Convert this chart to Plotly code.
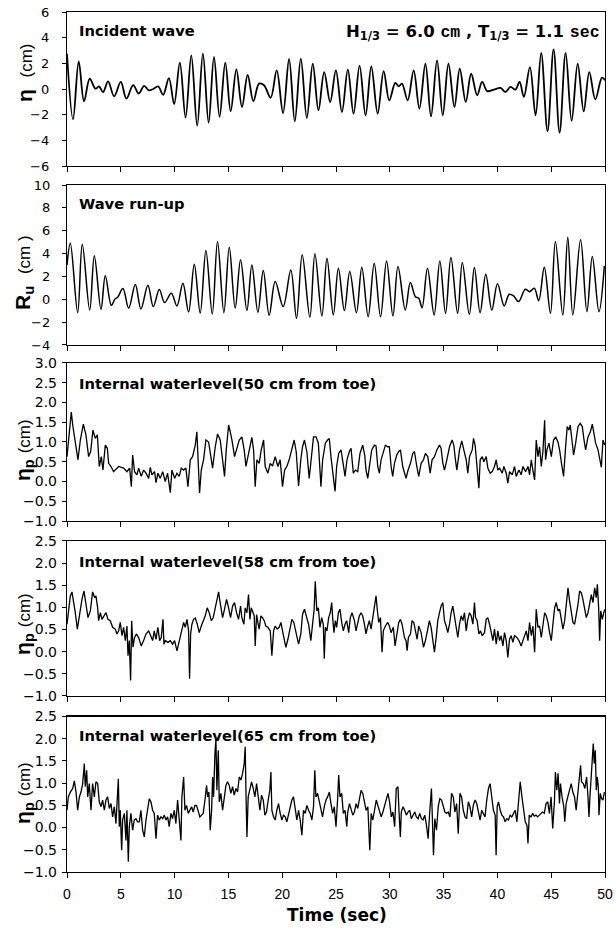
import plotly.graph_objects as go

SANS = "Liberation Sans, Arial, sans-serif"
WIDE = "DejaVu Sans, Verdana, sans-serif"

# ---------------- Incident wave (cm) ----------------
time_incident = [0.00,0.56,1.09,1.58,2.11,2.64,2.98,3.35,3.82,4.38,
    5.00,5.52,6.15,6.67,7.17,7.60,8.01,8.47,8.94,9.47,
    9.96,10.49,11.02,11.55,12.10,12.63,13.16,13.66,14.18,14.71,
    15.21,15.74,16.26,16.79,17.32,17.85,18.31,18.93,19.49,20.08,
    20.64,21.17,21.73,22.29,22.84,23.37,23.90,24.46,24.99,25.55,
    26.10,26.63,27.19,27.75,28.28,28.87,29.43,29.95,30.51,30.82,
    31.13,31.66,32.22,32.75,33.31,33.83,34.39,34.92,35.45,36.01,
    36.50,37.06,37.56,38.12,38.58,39.05,39.67,40.29,40.75,41.22,
    41.68,42.06,42.46,43.02,43.55,44.07,44.66,45.22,45.78,46.34,
    46.90,47.46,48.02,48.54,49.10,49.72,50.0]
eta_incident = [2.75,-2.36,2.16,-0.96,0.80,0.03,0.20,-0.25,0.60,-0.57,
    0.55,-0.75,0.30,-0.35,0.25,-0.10,0.00,0.20,-0.45,0.85,
    -1.17,2.05,-2.23,2.62,-2.86,2.75,-2.62,2.50,-2.16,2.05,
    -1.74,1.53,-1.40,1.09,-0.94,0.42,0.29,-0.68,1.45,-1.87,
    2.34,-2.52,2.36,-2.26,1.97,-1.66,1.32,-1.01,1.45,-1.79,
    1.51,-1.92,1.82,-2.05,1.77,-1.92,1.40,-0.88,0.47,0.21,
    0.42,-0.88,1.45,-1.53,1.97,-2.13,2.23,-2.05,1.97,-1.40,
    1.58,-1.01,1.19,-0.49,0.55,-0.16,-0.05,0.08,-0.23,0.16,
    -0.05,0.55,-0.62,1.71,-2.05,2.81,-3.30,3.09,-3.40,2.81,
    -2.49,1.97,-1.74,1.32,-0.81,0.88,0.68]

# ---------------- Wave run-up (cm) ----------------
time_runup = [0.00,0.31,0.99,1.42,2.11,2.54,3.16,3.56,4.12,4.46,
    4.71,5.20,5.73,6.35,6.87,7.52,8.02,8.58,9.07,9.69,
    10.22,10.77,11.30,11.83,12.38,12.91,13.50,13.99,14.58,15.08,
    15.63,16.13,16.72,17.18,17.74,18.24,18.79,19.35,20.09,20.80,
    21.33,21.86,22.57,23.04,23.69,24.16,24.75,25.22,25.78,26.28,
    26.90,27.40,27.99,28.55,29.14,29.70,30.29,30.76,31.44,31.91,
    32.38,32.69,33.00,33.50,34.12,34.65,35.18,35.68,36.30,36.74,
    37.39,37.86,38.39,38.92,39.48,40.01,40.63,41.10,41.50,41.97,
    42.59,42.99,43.43,43.84,44.36,44.93,45.39,46.08,46.54,47.01,
    47.73,48.32,48.82,49.44,49.94]
runup = [3.0,4.91,-1.17,4.82,-0.94,3.80,-0.88,2.05,-0.53,0.03,
    0.18,0.94,-0.79,1.29,-0.85,1.23,-0.64,0.85,-0.29,0.53,
    -0.58,1.40,-1.11,3.07,-1.20,4.27,-1.29,5.06,-1.17,4.56,
    -0.76,3.45,-0.99,3.01,-1.14,2.51,-1.40,1.55,-0.64,2.57,
    -1.67,3.89,-1.58,3.98,-1.46,3.60,-1.37,2.72,-0.99,2.43,
    -1.17,2.81,-1.52,3.16,-1.52,3.36,-1.46,2.87,-0.94,1.46,
    0.23,0.09,-0.73,2.72,-1.37,3.36,-1.23,3.65,-1.23,3.22,
    -1.32,2.78,-1.17,2.19,-0.94,1.35,-0.58,0.44,0.29,-0.20,
    0.88,0.67,0.96,-0.12,2.81,-1.23,5.06,-1.37,5.44,-1.37,
    5.20,-1.08,3.74,-1.08,2.92]

# ---------------- Internal water level, 50 cm from toe ----------------
time_50 = [0.00,0.15,0.40,0.53,0.65,0.84,1.02,1.24,1.52,1.76,
    2.01,2.20,2.41,2.63,2.82,3.00,3.19,3.34,3.56,3.75,
    3.87,4.09,4.33,4.80,5.26,5.57,5.82,5.98,6.10,6.28,
    6.50,6.66,6.90,7.12,7.34,7.59,7.74,7.89,8.14,8.27,
    8.45,8.67,8.89,9.13,9.35,9.60,9.75,10.00,10.22,10.43,
    10.62,10.84,11.05,11.24,11.46,11.67,11.92,12.07,12.23,12.32,
    12.48,12.69,12.91,13.16,13.37,13.53,13.78,13.99,14.24,14.46,
    14.64,14.80,15.02,15.17,15.33,15.57,15.79,16.01,16.25,16.47,
    16.63,16.81,17.03,17.18,17.34,17.49,17.65,17.86,18.05,18.27,
    18.42,18.67,18.89,19.10,19.35,19.60,19.81,20.03,20.22,20.43,
    20.65,20.90,21.11,21.30,21.52,21.73,21.89,22.07,22.29,22.51,
    22.69,22.91,
    23.14,23.36,23.51,23.60,23.76,24.01,24.22,24.38,24.53,24.69,
    24.91,25.06,25.25,25.47,25.62,25.84,26.02,26.24,26.40,26.61,
    26.80,27.02,27.23,27.48,27.67,27.79,27.95,28.10,28.32,28.57,
    28.72,28.88,29.03,29.19,29.40,29.59,29.81,29.96,30.12,30.27,
    30.43,30.65,30.83,30.99,31.20,31.39,31.51,31.70,31.92,32.13,
    32.29,32.51,32.69,32.91,33.13,33.31,33.53,33.75,33.93,34.15,
    34.37,34.62,34.77,34.93,35.08,35.30,35.55,35.79,35.95,36.10,
    36.23,36.48,36.69,36.88,37.10,37.25,37.41,37.66,37.78,37.93,
    38.09,38.28,38.40,38.59,38.74,38.96,39.11,39.33,39.52,39.73,
    39.89,40.04,40.20,40.45,40.60,40.82,40.97,41.13,41.38,41.59,
    41.75,42.00,42.21,42.37,42.62,42.84,42.99,43.15,43.30,43.46,
    43.61,43.77,43.92,44.08,44.23,44.39,44.48,44.60,44.79,45.01,
    45.22,45.41,45.63,45.78,46.00,46.15,46.34,46.49,46.65,46.77,
    46.96,47.08,47.27,47.49,47.70,47.89,48.05,48.20,48.42,48.64,
    48.82,48.95,49.13,49.35,49.50,49.66,49.81,49.97]
level_50 = [0.63,1.00,1.76,1.43,1.22,0.88,0.55,1.05,1.45,1.18,
    0.63,0.76,1.30,1.09,1.18,0.38,0.63,0.29,0.92,0.84,
    0.46,0.38,0.25,0.38,0.34,0.25,0.34,-0.13,0.67,0.25,
    0.17,0.34,0.13,0.29,0.21,0.08,0.36,0.17,0.25,-0.03,
    0.21,0.08,0.25,0.00,0.21,-0.28,0.29,0.08,0.21,0.13,
    0.34,0.29,0.34,-0.13,0.55,0.63,0.92,1.26,-0.04,-0.29,
    0.29,0.55,1.05,1.00,0.63,0.34,0.88,1.20,1.05,0.50,
    0.13,0.80,1.43,1.26,1.05,0.63,0.84,1.05,1.13,0.80,
    0.38,0.63,0.97,1.12,0.80,-0.13,0.55,0.46,0.80,1.05,
    0.38,0.21,0.46,0.39,0.63,0.38,0.55,-0.13,0.29,0.38,
    0.55,0.80,1.05,0.76,-0.11,0.55,0.88,1.05,0.76,0.08,
    0.55,1.13,
    1.13,0.97,0.29,-0.13,0.55,0.97,1.05,1.09,0.63,0.29,
    -0.25,0.38,0.71,0.80,0.55,0.13,0.55,0.76,0.84,0.21,
    0.29,0.25,0.71,0.92,0.67,0.29,0.08,0.38,0.80,0.92,
    0.90,0.38,0.21,0.55,0.76,0.92,0.88,0.88,0.38,0.13,
    0.46,0.67,0.76,0.80,0.38,0.21,0.08,0.29,0.46,0.71,
    0.76,0.38,0.13,0.46,0.55,0.71,0.63,0.21,0.55,0.63,
    0.80,0.92,0.84,0.46,0.29,0.55,0.88,1.05,0.92,0.55,
    0.29,0.80,1.03,0.80,0.55,0.21,0.63,0.80,1.09,0.92,
    0.38,-0.17,0.55,0.63,0.50,0.63,0.34,0.21,0.25,0.38,
    0.55,0.29,0.34,0.21,0.38,0.21,-0.04,0.25,0.17,0.38,
    0.13,0.29,0.17,0.38,0.25,0.38,0.17,0.55,0.29,0.04,
    1.05,0.63,0.88,0.38,0.76,1.55,0.55,0.80,0.97,0.63,
    1.05,1.13,1.00,0.80,0.38,0.13,0.88,1.39,1.30,1.43,
    0.97,0.67,0.97,1.39,1.47,1.39,1.05,0.80,1.13,1.26,
    1.45,1.26,0.97,0.80,0.59,0.36,1.05,0.92]

# ---------------- Internal water level, 58 cm from toe ----------------
time_58 = [0.00,0.15,0.31,0.46,0.62,0.77,0.96,1.15,1.39,1.58,
    1.76,1.95,2.17,2.38,2.57,2.69,2.85,2.94,3.10,3.25,
    3.44,3.62,3.81,4.02,4.24,4.49,4.64,4.80,4.95,5.11,
    5.26,5.42,5.57,5.67,5.79,5.91,6.01,6.13,6.28,6.44,
    6.66,6.90,7.12,7.34,7.59,7.80,7.96,8.11,8.27,8.45,
    8.61,8.76,8.92,9.01,9.13,9.38,9.60,9.81,10.00,10.22,
    10.37,10.53,10.68,10.84,10.99,11.15,11.30,11.39,11.49,11.61,
    11.76,11.92,12.11,12.29,12.48,12.66,12.85,13.03,13.22,13.41,
    13.59,13.78,13.96,14.09,14.21,14.33,14.46,14.64,14.83,15.02,
    15.20,15.39,15.57,15.76,15.94,16.13,16.25,16.44,16.56,16.72,
    16.87,17.00,17.12,17.24,17.40,17.49,17.62,17.74,17.86,18.02,
    18.17,18.33,18.48,18.67,18.89,19.04,19.20,19.35,19.54,19.72,
    19.88,20.03,20.19,20.34,20.53,20.74,20.90,21.08,21.30,21.52,
    21.73,21.89,22.07,22.29,22.45,22.66,22.82,22.97,23.07,23.22,
    23.36,23.51,23.67,23.82,23.91,24.01,24.16,24.32,24.47,24.60,
    24.69,24.81,24.94,25.06,25.22,25.37,25.53,25.68,25.84,25.99,
    26.18,26.33,26.49,26.71,26.86,27.02,27.17,27.33,27.48,27.64,
    27.79,27.95,28.10,28.26,28.41,28.57,28.72,28.85,28.97,29.13,
    29.28,29.40,29.59,29.81,29.96,30.12,30.33,30.49,30.65,30.83,
    30.99,31.14,31.36,31.51,31.61,31.73,31.92,32.07,32.23,32.38,
    32.54,32.69,32.91,33.13,33.31,33.53,33.68,33.84,33.99,34.15,
    34.31,34.46,34.62,34.77,34.93,35.08,35.24,35.39,35.55,35.70,
    35.86,36.01,36.17,36.32,36.48,36.63,36.79,36.94,37.10,37.25,
    37.41,37.56,37.72,37.87,37.97,38.12,38.28,38.43,38.59,38.80,
    38.96,39.11,39.27,39.42,39.58,39.73,39.89,40.04,40.20,40.35,
    40.51,40.66,40.82,40.97,41.13,41.28,41.44,41.59,41.81,42.00,
    42.21,42.37,42.52,42.68,42.84,42.99,43.15,43.30,43.46,43.61,
    43.77,43.92,44.08,44.23,44.39,44.54,44.70,44.85,45.01,45.16,
    45.32,45.47,45.63,45.78,45.94,46.09,46.25,46.40,46.56,46.71,
    46.87,47.02,47.18,47.33,47.49,47.64,47.80,47.95,48.11,48.26,
    48.42,48.57,48.73,48.88,49.04,49.19,49.29,49.41,49.50,49.60,
    49.75,49.88,50.00]
level_58 = [0.62,0.99,1.26,1.35,1.14,0.88,0.51,0.81,1.18,1.37,
    1.07,0.77,0.92,1.35,1.22,1.26,0.99,0.70,0.88,0.73,
    0.81,0.88,0.73,0.70,0.55,0.51,0.40,0.47,0.66,0.36,
    0.55,0.25,0.58,-0.09,0.25,-0.65,0.70,0.10,0.32,0.40,
    0.32,0.13,0.25,0.40,0.47,0.36,0.25,0.47,0.28,0.55,
    0.25,0.32,0.73,0.17,0.25,0.21,0.25,0.17,0.25,0.02,
    0.17,0.36,0.51,0.66,0.55,0.73,0.47,-0.61,0.40,0.62,
    0.73,0.76,0.62,0.43,0.58,0.70,0.81,0.99,0.88,0.70,
    0.77,0.99,1.26,1.35,1.14,0.96,0.77,0.96,1.18,0.99,
    0.77,1.03,1.11,0.88,0.73,1.03,0.77,0.62,0.99,0.88,
    1.29,0.73,0.99,0.92,0.81,0.13,0.84,0.66,0.51,0.81,
    0.77,0.70,0.58,0.55,0.47,-0.09,0.47,0.58,0.51,0.55,
    0.66,0.47,0.25,0.10,0.28,0.51,0.73,0.66,0.40,0.17,
    0.40,0.84,0.96,0.77,0.62,0.25,0.55,0.96,1.59,0.92,
    0.99,0.55,0.77,0.62,-0.16,0.55,0.47,0.77,0.88,1.11,
    0.77,0.43,0.70,0.55,0.88,0.96,0.66,0.47,0.62,0.70,
    0.43,0.77,0.88,0.70,0.47,0.62,0.81,0.88,0.81,0.62,
    0.40,0.58,0.70,0.51,0.77,0.99,1.26,0.92,0.66,0.77,
    -0.01,0.47,0.58,0.66,0.58,0.43,0.55,0.13,0.43,0.66,
    0.73,0.62,0.32,0.25,0.02,0.32,0.40,0.70,0.66,0.43,
    0.28,0.58,0.43,0.10,0.25,0.51,0.70,0.55,0.32,-0.01,
    0.32,0.70,0.88,1.03,1.11,0.70,0.58,0.43,0.62,0.88,
    1.03,0.77,0.58,0.32,0.62,0.81,0.70,0.88,0.47,0.73,
    0.88,0.81,0.62,1.11,0.77,0.70,0.40,0.47,0.36,0.43,
    0.73,0.77,0.62,0.43,0.25,0.51,0.17,0.47,0.25,0.36,
    0.13,0.43,0.25,-0.13,0.28,0.36,0.21,0.36,0.32,0.25,
    0.13,0.25,0.36,0.47,0.25,0.66,0.36,0.58,-0.01,0.96,
    0.55,0.58,0.32,0.62,0.88,0.81,0.66,0.43,0.25,0.62,
    0.99,1.11,0.92,0.96,0.77,0.51,0.70,1.03,1.44,1.14,
    0.88,0.66,0.62,0.81,1.07,1.37,1.33,1.18,0.99,0.77,
    0.88,1.11,1.29,1.11,1.44,1.22,1.52,0.99,0.25,0.92,
    0.73,0.88,0.96]

# ---------------- Internal water level, 65 cm from toe ----------------
time_65 = [0.00,0.12,0.31,0.53,0.68,0.84,0.99,1.15,1.30,1.46,
    1.61,1.70,1.83,1.92,2.07,2.23,2.38,2.54,2.69,2.85,
    3.00,3.16,3.31,3.47,3.62,3.78,3.93,4.09,4.24,4.40,
    4.55,4.64,4.77,4.86,4.95,5.08,5.17,5.33,5.48,5.57,
    5.70,5.79,5.94,6.10,6.25,6.41,6.56,6.72,6.87,7.03,
    7.18,7.34,7.49,7.65,7.80,7.96,8.11,8.27,8.42,8.58,
    8.73,8.89,9.04,9.20,9.35,9.50,9.66,9.81,9.97,10.12,
    10.28,10.43,10.59,10.68,10.84,10.96,11.11,11.27,11.42,11.58,
    11.73,11.89,12.04,12.20,12.35,12.51,12.66,12.82,12.97,13.07,
    13.19,13.31,13.44,13.53,13.62,13.75,13.84,13.93,14.06,14.15,
    14.30,14.46,14.61,14.77,14.92,15.08,15.23,15.39,15.54,15.70,
    15.85,16.01,16.16,16.32,16.47,16.56,16.63,16.72,16.84,17.00,
    17.15,17.31,17.46,17.62,17.77,17.93,18.08,18.24,18.39,18.54,
    18.70,18.85,18.95,19.04,19.20,19.35,19.50,19.66,19.81,19.97,
    20.12,20.28,20.43,20.59,20.74,20.90,21.05,21.21,21.36,21.52,
    21.67,21.83,21.98,22.14,22.29,22.45,22.60,22.76,22.91,23.03,
    23.13,23.29,23.44,23.60,23.75,23.91,24.07,24.22,24.38,24.53,
    24.69,24.84,25.00,25.16,25.25,25.37,25.53,25.68,25.84,26.00,
    26.09,26.25,26.40,26.56,26.71,26.87,27.02,27.18,27.33,27.49,
    27.65,27.80,27.96,28.05,28.14,28.27,28.42,28.58,28.74,28.89,
    29.05,29.20,29.36,29.51,29.67,29.83,29.98,30.14,30.29,30.45,
    30.60,30.76,30.85,30.98,31.07,31.23,31.38,31.54,31.69,31.85,
    32.00,32.16,32.32,32.47,32.63,32.78,32.94,33.09,33.25,33.41,
    33.56,33.72,33.87,33.97,34.06,34.18,34.34,34.50,34.65,34.81,
    34.96,35.12,35.27,35.43,35.59,35.74,35.90,36.05,36.21,36.36,
    36.52,36.67,36.83,36.99,37.14,37.30,37.45,37.61,37.76,37.92,
    38.08,38.23,38.39,38.54,38.70,38.85,39.01,39.17,39.32,39.48,
    39.63,39.79,39.88,39.98,40.10,40.26,40.41,40.57,40.72,40.88,
    41.03,41.19,41.34,41.50,41.66,41.81,41.97,42.12,42.28,42.43,
    42.59,42.75,42.84,42.96,43.12,43.28,43.43,43.59,43.74,43.90,
    44.05,44.21,44.36,44.52,44.68,44.83,44.99,45.14,45.30,45.39,
    45.52,45.64,45.77,45.86,46.01,46.17,46.26,46.39,46.54,46.70,
    46.86,47.01,47.17,47.32,47.48,47.63,47.73,47.82,47.98,48.13,
    48.29,48.41,48.51,48.60,48.72,48.82,48.91,49.00,49.10,49.19,
    49.28,49.38,49.44,49.56,49.69,49.81,49.94]
level_65 = [0.39,0.69,0.80,0.88,1.05,0.80,0.39,0.69,0.80,0.99,
    1.44,0.92,1.29,0.69,0.99,0.39,0.99,0.69,1.03,0.99,
    0.58,0.47,0.62,0.39,0.62,0.69,0.43,0.54,0.24,0.47,
    0.09,0.50,1.10,0.02,0.39,-0.51,0.17,0.32,-0.29,0.39,
    -0.77,0.02,0.32,-0.06,0.17,0.20,0.13,0.13,0.39,-0.06,
    -0.21,0.17,0.47,0.65,0.58,0.39,0.32,-0.25,0.28,0.17,
    0.24,0.20,0.28,0.17,0.24,0.02,0.32,0.20,0.39,0.09,
    0.62,0.24,-0.29,0.69,1.14,0.39,0.50,0.32,0.39,0.47,
    0.35,0.50,0.50,0.35,0.24,0.28,0.32,0.62,0.95,0.69,
    0.80,-0.06,0.39,1.14,0.69,1.67,2.00,0.84,1.74,0.58,
    0.77,0.39,0.69,0.95,1.03,0.95,0.77,0.92,0.73,0.88,
    0.80,1.14,1.07,1.22,1.44,1.82,0.84,-0.21,0.69,0.88,
    1.03,0.88,0.69,0.99,0.62,0.39,0.73,0.62,0.28,0.35,
    0.62,0.84,1.25,0.39,0.24,0.17,0.39,0.54,0.32,0.17,
    0.28,0.24,0.13,0.32,0.47,0.62,0.69,0.39,0.17,0.39,
    0.17,-0.17,0.39,0.32,0.50,0.39,0.32,0.17,0.47,1.29,
    0.69,0.77,0.58,0.39,0.24,0.47,0.62,0.69,0.80,0.54,
    0.32,0.47,0.02,0.69,1.18,0.69,0.77,0.32,0.39,0.02,
    0.35,0.54,0.39,0.28,0.35,0.54,0.43,0.69,0.84,0.77,
    0.58,0.39,0.47,0.05,-0.51,0.32,0.17,0.39,0.62,0.50,
    0.35,0.24,0.35,0.47,0.65,0.77,0.58,0.24,0.35,0.02,
    0.88,0.92,0.39,-0.21,0.35,0.47,0.39,0.28,0.35,0.39,
    0.20,0.28,0.35,0.24,0.20,0.32,0.20,0.17,0.28,0.05,
    -0.25,0.39,0.88,0.09,-0.62,0.20,-0.06,0.47,0.65,0.62,
    0.50,0.35,0.32,0.35,0.24,0.77,0.69,0.35,0.54,-0.14,
    0.77,0.69,0.39,0.24,0.20,0.58,0.47,0.24,0.50,0.62,
    0.54,0.32,0.17,0.39,0.32,0.24,0.62,0.88,0.99,0.69,
    0.39,0.28,-0.62,0.47,0.58,0.39,0.28,0.24,0.13,0.20,
    0.17,0.28,0.24,0.32,0.39,0.13,0.69,1.03,0.69,0.39,
    0.13,0.05,-0.36,0.28,0.24,0.32,0.26,0.28,0.24,0.28,
    0.32,0.35,0.32,0.54,0.58,0.32,0.69,-0.02,0.58,1.25,
    0.84,1.22,0.54,0.99,0.69,0.47,0.13,0.54,0.69,0.84,
    0.99,0.80,0.69,0.39,0.84,1.22,1.40,1.03,0.99,0.88,
    1.14,0.73,0.24,0.69,1.14,1.52,1.89,1.44,1.74,0.84,
    1.14,0.92,0.28,0.77,0.65,0.62,0.80]

# ---------------- axes / labels ----------------
x_ticks = [0, 5, 10, 15, 20, 25, 30, 35, 40, 45, 50]
y_ranges = [[-6, 6], [-4, 10], [-1, 3], [-1, 2.5], [-1, 2.5]]
y_dticks = [2, 2, 0.5, 0.5, 0.5]
y_formats = ["d", "d", ".1f", ".1f", ".1f"]
panel_titles = ["Incident wave", "Wave run-up",
                "Internal waterlevel(50 cm from toe)",
                "Internal waterlevel(58 cm from toe)",
                "Internal waterlevel(65 cm from toe)"]
cm = "<span style='font-family:Liberation Sans;font-size:17px;font-weight:normal'>"
y_titles = ["<b>η</b>  " + cm + "(cm)</span>",
            "<b>R<sub>u</sub></b>  " + cm + "(cm )</span>",
            "<b>η<sub>p</sub></b> " + cm + "(cm)</span>",
            "<b>η<sub>p</sub></b> " + cm + "(cm)</span>",
            "<b>η<sub>p</sub></b> " + cm + "(cm)</span>"]

series = [(time_incident, eta_incident, "spline", 1.8),
          (time_runup, runup, "spline", 1.5),
          (time_50, level_50, "linear", 1.3),
          (time_58, level_58, "linear", 1.3),
          (time_65, level_65, "linear", 1.3)]

y_domains = [[0.8209, 1.0], [0.6128, 0.7988], [0.4081, 0.5919],
             [0.2047, 0.3849], [0.0, 0.1808]]
title_y = [0.979, 0.7779, 0.5686, 0.3616, 0.1593]
ytitle_y = [0.929, 0.6977, 0.4907, 0.2884, 0.0919]
ytick_size = [13, 13, 14, 14, 14]
ytick_standoff = [10, 9, 2, 2, 2]

fig = go.Figure()
layout = dict(
    width=616, height=929,
    margin=dict(l=67, r=11, t=12, b=57),
    paper_bgcolor="white", plot_bgcolor="white",
    showlegend=False,
    font=dict(family=SANS, color="black", size=13),
)
annotations = []
for i, (t, v, shape, w) in enumerate(series):
    sfx = "" if i == 0 else str(i + 1)
    fig.add_trace(go.Scatter(x=t, y=v, mode="lines",
                             line=dict(color="black", width=w, shape=shape),
                             xaxis="x" + sfx, yaxis="y" + sfx,
                             hoverinfo="skip"))
    layout["xaxis" + sfx] = dict(
        domain=[0, 1], anchor="y" + sfx, range=[0, 50],
        tickvals=x_ticks, showticklabels=(i == 4),
        ticks="outside", ticklen=5, tickwidth=1, tickcolor="black",
        showline=True, linecolor="black", linewidth=1.2, mirror=True,
        showgrid=False, zeroline=False, automargin=False,
        tickfont=dict(family=SANS, size=14),
        ticklabelstandoff=4,
    )
    layout["yaxis" + sfx] = dict(
        domain=y_domains[i], anchor="x" + sfx, range=y_ranges[i],
        dtick=y_dticks[i], tick0=y_ranges[i][0], tickformat=y_formats[i],
        ticks="outside", ticklen=4, tickwidth=1, tickcolor="black",
        showline=True, linecolor="black", linewidth=1.2, mirror=True,
        showgrid=False, zeroline=False, automargin=False,
        tickfont=dict(family=WIDE, size=ytick_size[i]),
        ticklabelstandoff=ytick_standoff[i],
    )
    annotations.append(dict(
        text="<b>" + panel_titles[i] + "</b>", xref="paper", yref="paper",
        x=0.0186, y=title_y[i], xanchor="left", yanchor="middle",
        showarrow=False, font=dict(family=WIDE, size=14.7, color="black")))
    annotations.append(dict(
        text=y_titles[i], xref="paper", yref="paper",
        x=-0.08, y=ytitle_y[i], xanchor="center", yanchor="middle",
        textangle=-90, showarrow=False,
        font=dict(family=SANS, size=21, color="black")))

mono = "<span style='font-family:Liberation Mono'>"
annotations.append(dict(
    text="<b>H<sub>1/3</sub> = 6.0 " + mono + "cm</span> , "
         "T<sub>1/3</sub> = 1.1 " + mono + "sec</span></b>",
    xref="paper", yref="paper", x=0.994, y=0.9767,
    xanchor="right", yanchor="middle", showarrow=False,
    font=dict(family=WIDE, size=16.5, color="black")))
annotations.append(dict(
    text="<b>Time (sec)</b>", xref="paper", yref="paper",
    x=0.502, y=-0.05, xanchor="center", yanchor="middle", showarrow=False,
    font=dict(family=WIDE, size=17, color="black")))

layout["annotations"] = annotations
fig.update_layout(**layout)
# remove the browser's default 8 px page margin so the figure fills the window
fig.write_html("out.html",
               config={"displayModeBar": False, "staticPlot": True},
               post_script="document.body.style.margin='0';")
